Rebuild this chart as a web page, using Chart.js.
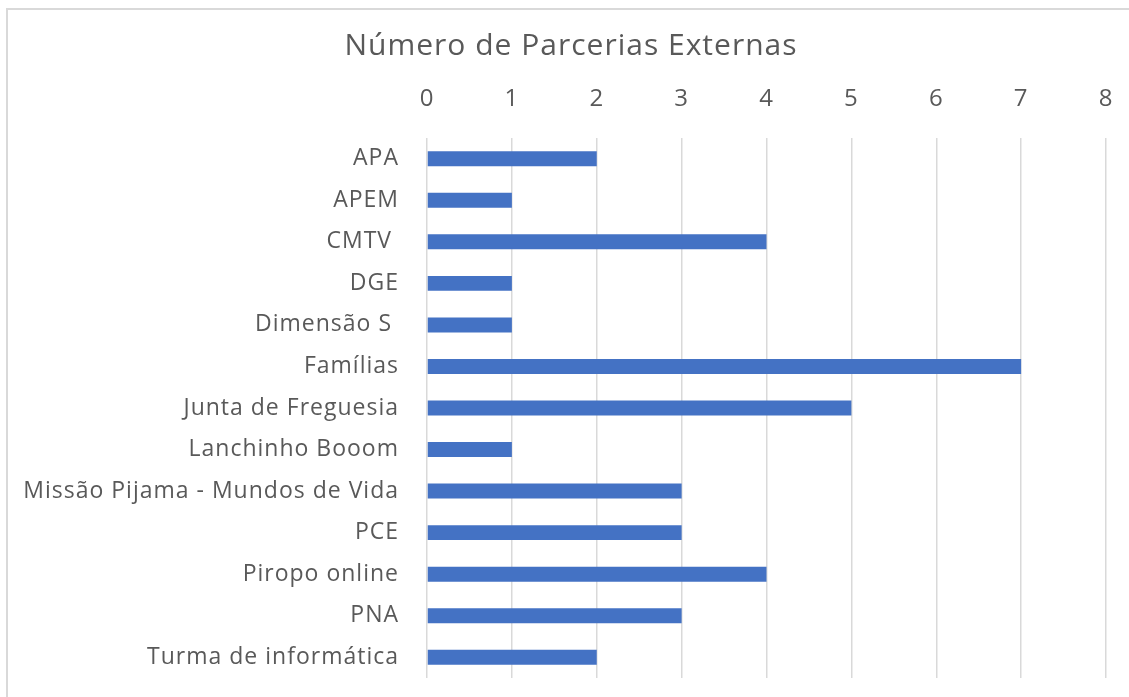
<!DOCTYPE html>
<html>
<head>
<meta charset="utf-8">
<script src="https://cdn.jsdelivr.net/npm/chart.js@4"></script>
<style>
    html, body { margin: 0; background: #fff; overflow: hidden; }
    #frame { position: absolute; left: 6px; top: 8px; width: 1300px; height: 800px; border: 2px solid #d9d9d9; }
    #wrap { position: absolute; left: 0; top: 0; width: 1129px; height: 697px; }
</style>
</head>
<body>
<div id="frame"></div>
<div id="wrap"><canvas id="chart"></canvas></div>
<script>
const categories = ['APA', 'APEM', 'CMTV ', 'DGE', 'Dimensão S ', 'Famílias', 'Junta de Freguesia',
    'Lanchinho Booom', 'Missão Pijama - Mundos de Vida', 'PCE', 'Piropo online', 'PNA', 'Turma de informática'];
const parcerias = [2, 1, 4, 1, 1, 7, 5, 1, 3, 3, 4, 3, 2];
const xTicks = [0, 1, 2, 3, 4, 5, 6, 7, 8];

const fontFamily = '"Open Sans", "Noto Sans", sans-serif';
const textColor = '#595959';

const chartCanvas = document.getElementById('chart');

// the original text is slightly spaced out, canvas supports that directly
const spacing = {
    id: 'spacing',
    afterLayout: chart => {
        // title sits centred on the outer frame, a bit right of the canvas middle
        if (chart.titleBlock) {
            chart.titleBlock.left += 18;
            chart.titleBlock.right += 18;
        }
    },
    beforeDraw: chart => {
        chart.ctx.letterSpacing = '1px';
    }
};

chart = new Chart(chartCanvas, {
    type: 'bar',
    data: {
        labels: categories,
        datasets: [{
            data: parcerias,
            backgroundColor: '#4472C4',
            borderWidth: 0,
            categoryPercentage: 1,
            barPercentage: 0.36
        }]
    },
    options: {
        indexAxis: 'y',
        animation: false,
        responsive: true,
        maintainAspectRatio: false,
        layout: {
            padding: { left: 0, right: 23, top: 28, bottom: 19 }
        },
        scales: {
            x: {
                position: 'top',
                min: xTicks[0],
                max: xTicks[xTicks.length - 1],
                afterBuildTicks: axis => {
                    axis.ticks = xTicks.map(v => ({ value: v }));
                },
                afterFit: axis => {
                    axis.height = 60;
                    axis.paddingLeft = 0;
                    axis.paddingRight = 0;
                },
                grid: {
                    color: '#d9d9d9',
                    lineWidth: 1.5,
                    drawTicks: false
                },
                border: { display: false },
                ticks: {
                    color: textColor,
                    padding: 24,
                    font: { family: fontFamily, size: 24 }
                }
            },
            y: {
                afterFit: axis => {
                    axis.width = 427;
                    axis.paddingTop = 0;
                    axis.paddingBottom = 0;
                },
                grid: { display: false, drawTicks: false },
                border: { display: false },
                ticks: {
                    color: textColor,
                    padding: 28,
                    autoSkip: false,
                    font: { family: fontFamily, size: 23 }
                }
            }
        },
        plugins: {
            legend: { display: false },
            tooltip: { enabled: false },
            title: {
                display: true,
                text: 'Número de Parcerias Externas',
                color: textColor,
                font: { family: fontFamily, size: 30, weight: 'normal' },
                padding: { top: 0, bottom: 14 }
            }
        }
    },
    plugins: [spacing]
});
</script>
</body>
</html>
